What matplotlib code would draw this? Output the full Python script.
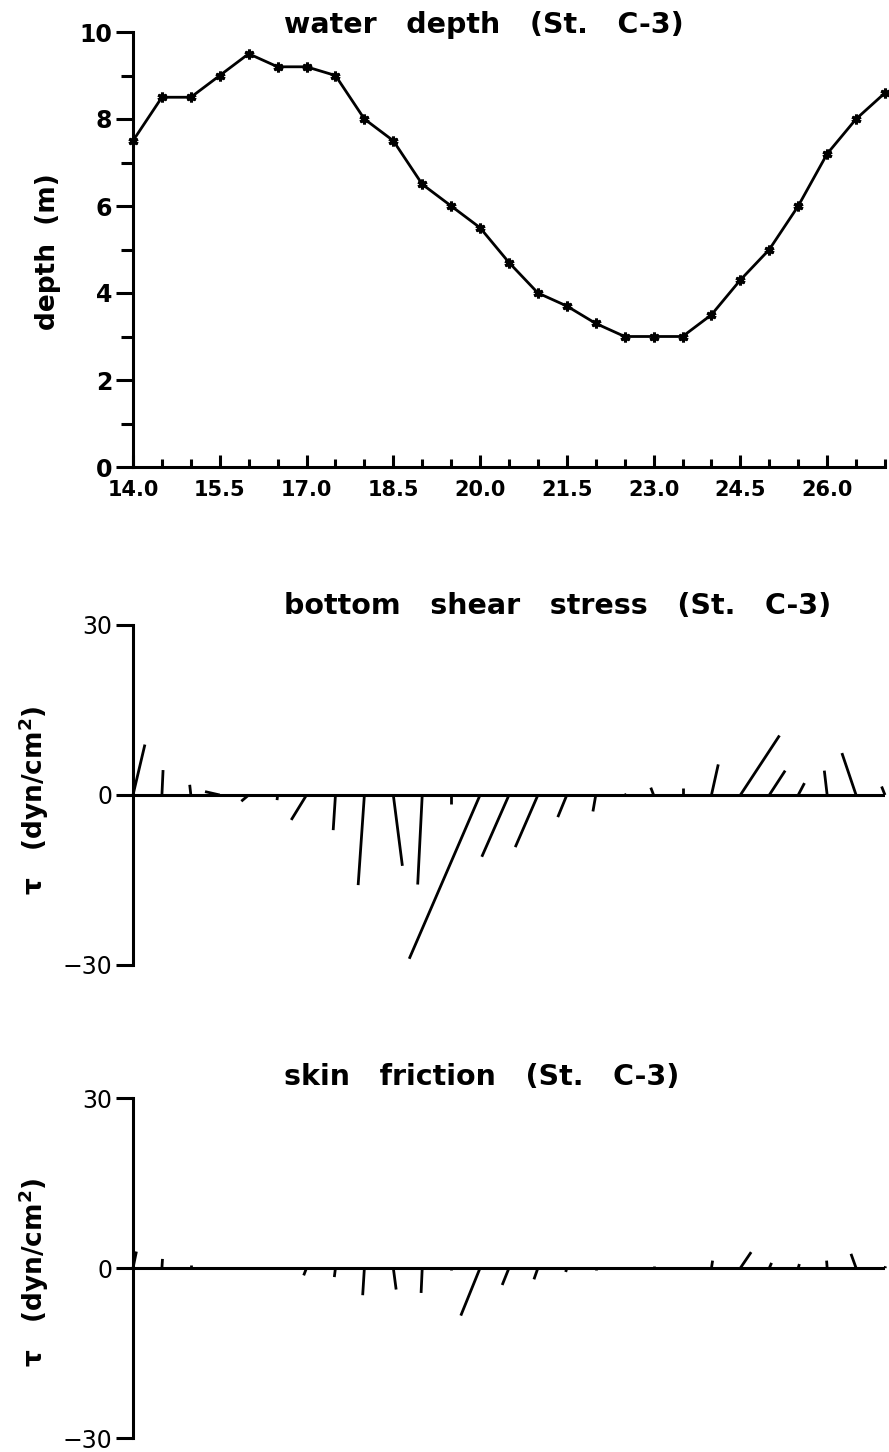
import numpy as np
import matplotlib
matplotlib.use("Agg")
import matplotlib.pyplot as plt
from matplotlib.collections import LineCollection
from matplotlib.ticker import MultipleLocator, FixedLocator

plt.rcParams['font.family'] = ['DejaVu Sans']
plt.rcParams['font.weight'] = 'bold'
plt.rcParams['mathtext.fontset'] = 'dejavusans'

# time (day) of each observation
times = [14.0, 14.5, 15.0, 15.5, 16.0, 16.5, 17.0, 17.5, 18.0, 18.5, 19.0, 19.5, 20.0,
         20.5, 21.0, 21.5, 22.0, 22.5, 23.0, 23.5, 24.0, 24.5, 25.0, 25.5, 26.0, 26.5, 27.0]

# water depth (m)
depth = [7.5, 8.5, 8.5, 9.0, 9.5, 9.2, 9.2, 9.0, 8.0, 7.5, 6.5, 6.0, 5.5,
         4.7, 4.0, 3.7, 3.3, 3.0, 3.0, 3.0, 3.5, 4.3, 5.0, 6.0, 7.2, 8.0, 8.6]

# bottom shear stress components (dyn/cm2)
shear_u = [2.1, 0.2, -0.2, -2.6, -1.3, -0.1, -2.7, -0.4, -1.1, 1.6, -0.8, 0.0, -12.5,
           -4.8, -4.0, -1.6, -0.5, 0.3, -0.5, 0.0, 1.2, 6.9, 2.8, 1.1, -0.5, -2.5, -0.6]
shear_v = [8.9, 4.4, 1.8, 0.6, -1.1, -0.9, -4.4, -6.2, -15.9, -12.5, -15.8, -1.5, -28.9,
           -10.9, -9.2, -3.9, -2.9, 0.1, 1.3, 1.2, 5.4, 10.5, 4.3, 2.1, 4.3, 7.4, 1.5]

# skin friction components (dyn/cm2)
skin_u = [0.6, 0.1, 0.0, 0.0, 0.0, 0.0, -0.5, -0.2, -0.3, 0.5, -0.2, 0.0, -3.4,
          -1.2, -0.7, -0.2, 0.0, 0.0, 0.0, 0.0, 0.2, 1.9, 0.4, 0.2, -0.1, -0.9, 0.1]
skin_v = [2.9, 1.6, 0.6, 0.2, 0.1, -0.2, -1.3, -1.6, -4.8, -3.8, -4.4, -0.4, -8.4,
          -3.0, -2.0, -0.7, -0.3, 0.1, 0.3, 0.1, 1.3, 2.8, 0.9, 0.7, 1.3, 2.5, 0.3]

xlabels = [14.0, 15.5, 17.0, 18.5, 20.0, 21.5, 23.0, 24.5, 26.0]

W, H = 8.89, 14.52
fig = plt.figure(figsize=(W, H), dpi=100)

lw_ax = 2.2
left, width = 133 / 889, 752 / 889
title_fs = 20.5
tau_label = "\u03c4   (dyn/cm$^{\\mathbf{2}}$)"

# ---- water depth
ax1 = fig.add_axes([left, 1 - 467 / 1452, width, 435 / 1452])
ax1.plot(times, depth, color='black', lw=2.0, marker=(6, 2, 0), ms=7, mew=2.2, clip_on=False)
ax1.set_xlim(14, 27)
ax1.set_ylim(0, 10)
for s in ['top', 'right']:
    ax1.spines[s].set_visible(False)
for s in ['left', 'bottom']:
    ax1.spines[s].set_linewidth(lw_ax)
ax1.yaxis.set_major_locator(MultipleLocator(2))
ax1.yaxis.set_minor_locator(MultipleLocator(1))
ax1.xaxis.set_major_locator(FixedLocator(xlabels))
ax1.xaxis.set_minor_locator(MultipleLocator(0.5))
ax1.set_xticklabels([f"{v:.1f}" for v in xlabels])
ax1.tick_params(axis='y', which='major', direction='out', length=12, width=lw_ax, labelsize=17, pad=3)
ax1.tick_params(axis='y', which='minor', direction='out', length=9, width=lw_ax)
ax1.tick_params(axis='x', which='major', direction='in', length=9, width=lw_ax, labelsize=15, pad=9)
ax1.tick_params(axis='x', which='minor', direction='in', length=6, width=lw_ax)
fig.text(48 / 889, 1 - 252 / 1452, "depth  (m)", rotation=90, ha='center', va='center', fontsize=19)
fig.text(284 / 889, 1 - 25 / 1452, "water   depth   (St.   C-3)", ha='left', va='center',
         fontsize=title_fs)


def stick_panel(ax, u, v, title, title_y):
    ax.set_xlim(14, 27)
    ax.set_ylim(-30, 30)
    pos = ax.get_position()
    # keep vectors isotropic on screen: dyn/cm2 -> days
    k = (pos.height * H / 60) / (pos.width * W / 13)
    segs = [[(t, 0), (t + uu * k, vv)] for t, uu, vv in zip(times, u, v)]
    ax.add_collection(LineCollection(segs, colors='black', linewidths=2.0, clip_on=False))
    ax.axhline(0, color='black', lw=lw_ax)
    for s in ['top', 'right', 'bottom']:
        ax.spines[s].set_visible(False)
    ax.spines['left'].set_linewidth(lw_ax)
    ax.set_xticks([])
    ax.set_yticks([-30, 0, 30])
    ax.set_yticklabels(["\u221230", "0", "30"], fontweight='normal')
    ax.tick_params(axis='y', direction='out', length=12, width=lw_ax, labelsize=17, pad=3)
    fig.text(284 / 889, title_y, title, ha='left', va='center', fontsize=title_fs)


ax2 = fig.add_axes([left, 1 - 965 / 1452, width, 340 / 1452])
stick_panel(ax2, shear_u, shear_v, "bottom   shear   stress   (St.   C-3)", 1 - 606 / 1452)
fig.text(34 / 889, 1 - 800 / 1452, tau_label, rotation=90, ha='center', va='center', fontsize=19)

ax3 = fig.add_axes([left, 1 - 1438 / 1452, width, 340 / 1452])
stick_panel(ax3, skin_u, skin_v, "skin   friction   (St.   C-3)", 1 - 1077 / 1452)
fig.text(34 / 889, 1 - 1272 / 1452, tau_label, rotation=90, ha='center', va='center', fontsize=19)

fig.savefig("out.png", dpi=100)
